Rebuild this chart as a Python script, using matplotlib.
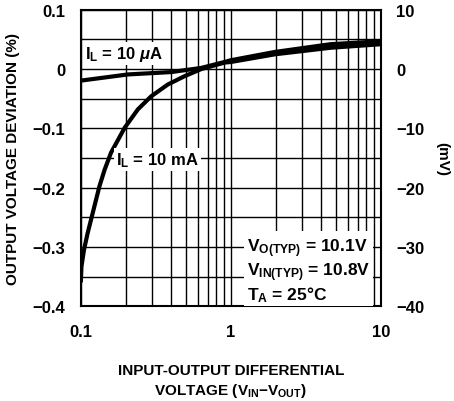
import numpy as np
import matplotlib
matplotlib.use('Agg')
import matplotlib.pyplot as plt
from matplotlib.ticker import FixedLocator, NullFormatter

plt.rcParams['font.family'] = ['Liberation Sans', 'DejaVu Sans']
plt.rcParams['font.weight'] = 'bold'
plt.rcParams['axes.labelweight'] = 'bold'
plt.rcParams['mathtext.fontset'] = 'custom'
plt.rcParams['mathtext.rm'] = 'Liberation Sans:bold'
plt.rcParams['mathtext.it'] = 'Liberation Sans:bold:italic'
plt.rcParams['mathtext.bf'] = 'Liberation Sans:bold'

# differential voltage (V) vs output deviation (%)
vdiff_ua = [0.1, 0.103, 0.206, 0.4, 0.634, 0.908, 1.0, 1.97, 4.6, 10.0]
dev_ua = [-0.019, -0.019, -0.009, -0.005, 0.002, 0.012, 0.015, 0.029, 0.042, 0.047]

vdiff_ma = [0.1, 0.101, 0.105, 0.111, 0.120, 0.133, 0.144, 0.159, 0.196, 0.240,
            0.294, 0.380, 0.491, 0.634, 0.908, 1.0, 1.97, 4.6, 10.0]
dev_ma = [-0.36, -0.333, -0.305, -0.277, -0.243, -0.198, -0.170, -0.141, -0.099, -0.068,
          -0.046, -0.026, -0.012, 0.0, 0.011, 0.012, 0.025, 0.036, 0.042]

left_ticks = [0.1, 0, -0.1, -0.2, -0.3, -0.4]
left_labels = ['0.1', '0', '\u22120.1', '\u22120.2', '\u22120.3', '\u22120.4']
right_ticks = [10, 0, -10, -20, -30, -40]
right_labels = ['10', '0', '\u221210', '\u221220', '\u221230', '\u221240']

fig = plt.figure(figsize=(4.54, 4.02), dpi=100)
ax = fig.add_axes([0.178, 0.236, 0.661, 0.737])

ax.set_xscale('log')
ax.set_xlim(0.1, 10)
ax.set_ylim(-0.4, 0.1)

minor = [m * d for d in (0.1, 1) for m in range(2, 10)]
ax.xaxis.set_major_locator(FixedLocator([0.1, 1, 10]))
ax.xaxis.set_minor_locator(FixedLocator(minor))
ax.xaxis.set_minor_formatter(NullFormatter())
ax.set_xticklabels(['0.1', '1', '10'])
ax.set_yticks(left_ticks)
ax.set_yticklabels(left_labels)
ax.yaxis.set_minor_locator(FixedLocator([0.05, -0.05, -0.15, -0.25, -0.35]))

ax.grid(True, which='both', color='black', linewidth=1.0)
ax.tick_params(which='both', length=0, labelsize=12, pad=13)
ax.tick_params(axis='y', pad=11)
for s in ax.spines.values():
    s.set_linewidth(1.5)

ax.plot(vdiff_ua, dev_ua, color='black', linewidth=3.0, solid_capstyle='butt', zorder=5)
ax.plot(vdiff_ma, dev_ma, color='black', linewidth=3.0, solid_capstyle='butt', zorder=5)

box = dict(facecolor='white', edgecolor='none', pad=1.5)
ax.text(0.107, 0.026, r'I$_{\mathbf{L}}$ = 10 $\mu$A', fontsize=12, va='center', ha='left', bbox=box, zorder=6)
ax.text(0.172, -0.152, r'I$_{\mathbf{L}}$ = 10 mA', fontsize=12, va='center', ha='left', bbox=box, zorder=6)
ax.text(1.28, -0.339,
        'V$_{\\mathbf{O(TYP)}}$ = 10.1V\nV$_{\\mathbf{IN(TYP)}}$ = 10.8V\nT$_{\\mathbf{A}}$ = 25\u00b0C',
        fontsize=12.5, va='center', ha='left', linespacing=1.08,
        bbox=dict(facecolor='white', edgecolor='none', pad=2), zorder=6)

ax.set_ylabel('OUTPUT VOLTAGE DEVIATION (%)', fontsize=11, labelpad=9)
ax.set_xlabel('INPUT-OUTPUT DIFFERENTIAL\nVOLTAGE (V$_{\\mathbf{IN}}$\u2212V$_{\\mathbf{OUT}}$)',
              fontsize=11, labelpad=17, linespacing=1.35)

ax2 = ax.twinx()
ax2.set_ylim(-40, 10)
ax2.set_yticks(right_ticks)
ax2.set_yticklabels(right_labels)
ax2.tick_params(length=0, labelsize=12, pad=11)
ax2.set_ylabel('(mV)', fontsize=11, rotation=-90, labelpad=18)
for s in ax2.spines.values():
    s.set_visible(False)

fig.savefig('out.png', dpi=100)
